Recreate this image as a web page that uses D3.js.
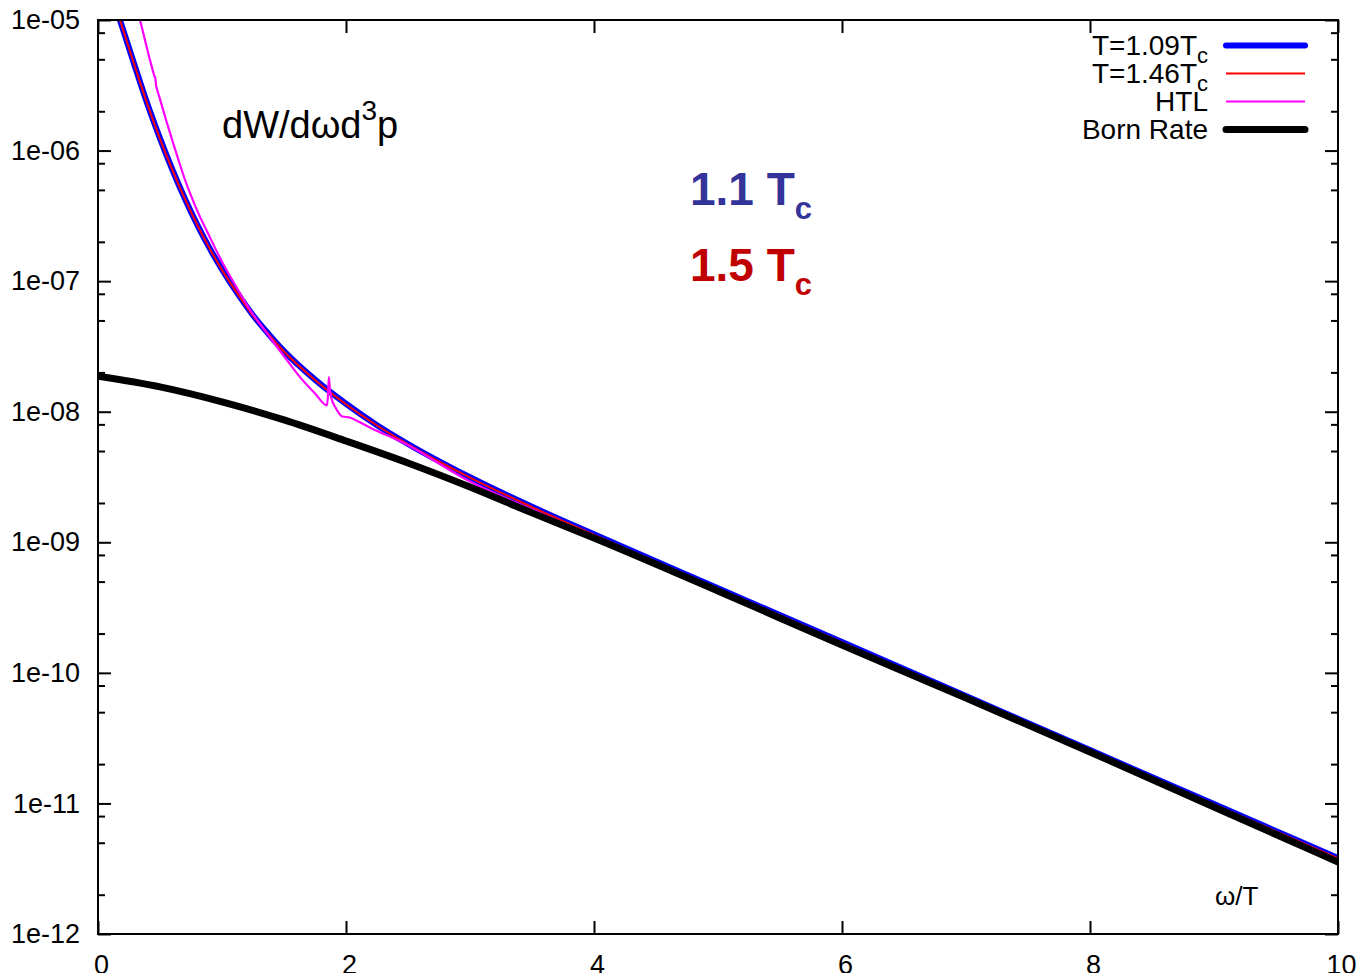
<!DOCTYPE html>
<html>
<head>
<meta charset="utf-8">
<script src="https://cdn.jsdelivr.net/npm/d3@7/dist/d3.min.js"></script>
<style>
  html, body { margin: 0; padding: 0; background: #fff; }
  svg { display: block; font-family: "Liberation Sans", Arial, Helvetica, sans-serif; }
</style>
</head>
<body>
<svg id="chart" width="1363" height="973"></svg>
<script>
// Photon production rate dW/dω d³p versus ω/T
const omegaT109 = [0.177, 0.25, 0.3, 0.4, 0.5, 0.6, 0.7, 0.8, 0.9, 1.0, 1.125, 1.25, 1.375, 1.5, 1.75, 2.0, 2.25, 2.5, 3.0, 3.5, 4, 5, 6, 7, 8, 9, 10];
const rateT109 = [1.00e-5, 6.10e-6, 4.35e-6, 2.25e-6, 1.24e-6, 7.13e-7, 4.30e-7, 2.71e-7, 1.79e-7, 1.23e-7, 8.05e-8, 5.48e-8, 3.94e-8, 2.91e-8, 1.76e-8, 1.15e-8, 7.89e-9, 5.66e-9, 3.15e-9, 1.87e-9, 1.15e-9, 4.45e-10, 1.72e-10, 6.64e-11, 2.56e-11, 9.89e-12, 3.82e-12];

const omegaT146 = [0.177, 0.25, 0.3, 0.4, 0.5, 0.6, 0.7, 0.8, 0.9, 1.0, 1.125, 1.25, 1.375, 1.5, 1.75, 2.0, 2.25, 2.5, 3.0, 3.5, 4, 5, 6, 7, 8, 9, 10];
const rateT146 = [1.00e-5, 6.07e-6, 4.33e-6, 2.24e-6, 1.23e-6, 7.10e-7, 4.28e-7, 2.70e-7, 1.78e-7, 1.22e-7, 8.01e-8, 5.45e-8, 3.92e-8, 2.89e-8, 1.75e-8, 1.14e-8, 7.84e-9, 5.62e-9, 3.13e-9, 1.86e-9, 1.14e-9, 4.42e-10, 1.71e-10, 6.60e-11, 2.55e-11, 9.83e-12, 3.80e-12];

const omegaHTL = [0.339, 0.36, 0.38, 0.40, 0.42, 0.44, 0.455, 0.462, 0.468, 0.476, 0.5, 0.55, 0.6, 0.65, 0.7, 0.75, 0.8, 0.9, 1.0, 1.1, 1.226, 1.363, 1.5, 1.629, 1.75, 1.847, 1.855, 1.862, 1.870, 1.880, 1.92, 1.97, 2.03, 2.1, 2.2, 2.435, 3.0, 3.5, 4, 5, 6, 7, 8, 9, 10];
const rateHTL = [1.00e-5, 8.32e-6, 6.95e-6, 5.82e-6, 4.90e-6, 4.17e-6, 3.72e-6, 3.59e-6, 3.16e-6, 2.95e-6, 2.48e-6, 1.70e-6, 1.19e-6, 8.41e-7, 6.03e-7, 4.52e-7, 3.47e-7, 2.19e-7, 1.41e-7, 9.55e-8, 6.03e-8, 3.98e-8, 2.66e-8, 1.84e-8, 1.38e-8, 1.12e-8, 1.35e-8, 1.84e-8, 1.48e-8, 1.29e-8, 1.06e-8, 9.20e-9, 9.02e-9, 8.41e-9, 7.50e-9, 5.96e-9, 2.92e-9, 1.78e-9, 1.11e-9, 4.32e-10, 1.67e-10, 6.46e-11, 2.49e-11, 9.59e-12, 3.70e-12];

const omegaBorn = [0, 0.5, 1, 1.5, 2, 2.5, 3, 3.5, 4, 5, 6, 7, 8, 9, 10];
const rateBorn = [1.87e-8, 1.55e-8, 1.19e-8, 8.65e-9, 5.97e-9, 4.05e-9, 2.65e-9, 1.68e-9, 1.08e-9, 4.24e-10, 1.63e-10, 6.41e-11, 2.48e-11, 9.40e-12, 3.56e-12];

const xTicks = [0, 2, 4, 6, 8, 10];
const yTicks = [1e-5, 1e-6, 1e-7, 1e-8, 1e-9, 1e-10, 1e-11, 1e-12];
const yTickLabels = ["1e-05", "1e-06", "1e-07", "1e-08", "1e-09", "1e-10", "1e-11", "1e-12"];
const yMinorMantissas = [2, 5, 8];

const seriesNames = ["T=1.09T", "T=1.46T", "HTL", "Born Rate"];
const seriesSubs = ["c", "c", "", ""];

const svg = d3.select("#chart");
const plotLeft = 98, plotRight = 1338, plotTop = 20, plotBottom = 934;

const x = d3.scaleLinear().domain([0, 10]).range([plotLeft, plotRight]);
const y = d3.scaleLog().domain([1e-12, 1e-5]).range([plotBottom, plotTop]);

// Minor tick positions on the log axis
const yMinor = [];
for (let e = -12; e < -5; e++) {
  yMinorMantissas.forEach(m => yMinor.push(m * Math.pow(10, e)));
}

svg.append("defs").append("clipPath").attr("id", "plotclip")
  .append("rect").attr("x", plotLeft).attr("y", plotTop)
  .attr("width", plotRight - plotLeft).attr("height", plotBottom - plotTop);

const fontSize = 27;

// Left axis with labels
const labelOf = new Map(yTicks.map((t, i) => [t, yTickLabels[i]]));
const gl = svg.append("g").attr("transform", `translate(${plotLeft},0)`)
  .call(d3.axisLeft(y).tickValues(yTicks).tickSize(-13).tickPadding(18)
    .tickFormat(d => labelOf.get(d)));
gl.append("g").call(d3.axisLeft(y).tickValues(yMinor).tickSize(-7).tickFormat(""));

// Right axis, mirrored ticks
const gr = svg.append("g").attr("transform", `translate(${plotRight},0)`)
  .call(d3.axisRight(y).tickValues(yTicks).tickSize(-13).tickFormat(""));
gr.append("g").call(d3.axisRight(y).tickValues(yMinor).tickSize(-7).tickFormat(""));

// Bottom axis with labels
const gb = svg.append("g").attr("transform", `translate(0,${plotBottom})`)
  .call(d3.axisBottom(x).tickValues(xTicks).tickSize(-13).tickPadding(21)
    .tickFormat(d3.format("d")));
gb.selectAll(".tick text").attr("dx", 3);

// Top axis, mirrored ticks
svg.append("g").attr("transform", `translate(0,${plotTop})`)
  .call(d3.axisTop(x).tickValues(xTicks).tickSize(-13).tickFormat(""));

svg.selectAll(".domain").remove();
svg.selectAll(".tick line").attr("stroke", "#000").attr("stroke-width", 2);
svg.selectAll(".tick text").attr("font-size", fontSize).attr("fill", "#000")
  .attr("font-family", "Liberation Sans, Arial, sans-serif");

// Curves
const lineGen = d3.line()
  .x(d => x(d[0])).y(d => y(d[1]))
  .curve(d3.curveMonotoneX);

const plot = svg.append("g").attr("clip-path", "url(#plotclip)");

const zip = (a, b) => a.map((v, i) => [v, b[i]]);
const series = [
  { data: zip(omegaT109, rateT109), color: "#0000ff", width: 6 },
  { data: zip(omegaT146, rateT146), color: "#ff0000", width: 2 },
  { data: zip(omegaHTL, rateHTL), color: "#ff00ff", width: 2.2 },
  { data: zip(omegaBorn, rateBorn), color: "#000000", width: 7 }
];

series.forEach(s => {
  plot.append("path")
    .attr("d", lineGen(s.data))
    .attr("fill", "none")
    .attr("stroke", s.color)
    .attr("stroke-width", s.width)
    .attr("stroke-linecap", "round")
    .attr("stroke-linejoin", "round");
});

// Frame
svg.append("rect").attr("x", plotLeft).attr("y", plotTop)
  .attr("width", plotRight - plotLeft).attr("height", plotBottom - plotTop)
  .attr("fill", "none").attr("stroke", "#000").attr("stroke-width", 2);

// Legend
const legendTextX = 1208;
const legendRows = [45.5, 73.5, 101.5, 129.5];
const legend = svg.append("g");
series.forEach((s, i) => {
  const yy = legendRows[i];
  const t = legend.append("text")
    .attr("x", legendTextX).attr("y", yy + 9)
    .attr("text-anchor", "end")
    .attr("font-size", 28).attr("fill", "#000")
    .text(seriesNames[i]);
  if (seriesSubs[i]) {
    t.append("tspan").attr("dy", 8).attr("font-size", 22).text(seriesSubs[i]);
  }
  legend.append("line")
    .attr("x1", 1226).attr("x2", 1305)
    .attr("y1", yy).attr("y2", yy)
    .attr("stroke", s.color).attr("stroke-width", s.width)
    .attr("stroke-linecap", s.width > 4 ? "round" : "butt");
});

// Annotations
const ann = svg.append("text").attr("x", 222).attr("y", 138)
  .attr("font-size", 38).attr("fill", "#000");
ann.append("tspan").text("dW/dωd");
ann.append("tspan").attr("dy", -18).attr("font-size", 28).text("3");
ann.append("tspan").attr("dy", 18).text("p");

const t1 = svg.append("text").attr("x", 690).attr("y", 205)
  .attr("font-size", 46).attr("font-weight", "bold").attr("fill", "#333399");
t1.append("tspan").text("1.1 T");
t1.append("tspan").attr("dy", 14).attr("font-size", 31).text("c");

const t2 = svg.append("text").attr("x", 690).attr("y", 281)
  .attr("font-size", 46).attr("font-weight", "bold").attr("fill", "#c00000");
t2.append("tspan").text("1.5 T");
t2.append("tspan").attr("dy", 14).attr("font-size", 31).text("c");

svg.append("text").attr("x", 1215).attr("y", 905)
  .attr("font-size", 26).attr("fill", "#000").text("ω/T");
</script>
</body>
</html>
